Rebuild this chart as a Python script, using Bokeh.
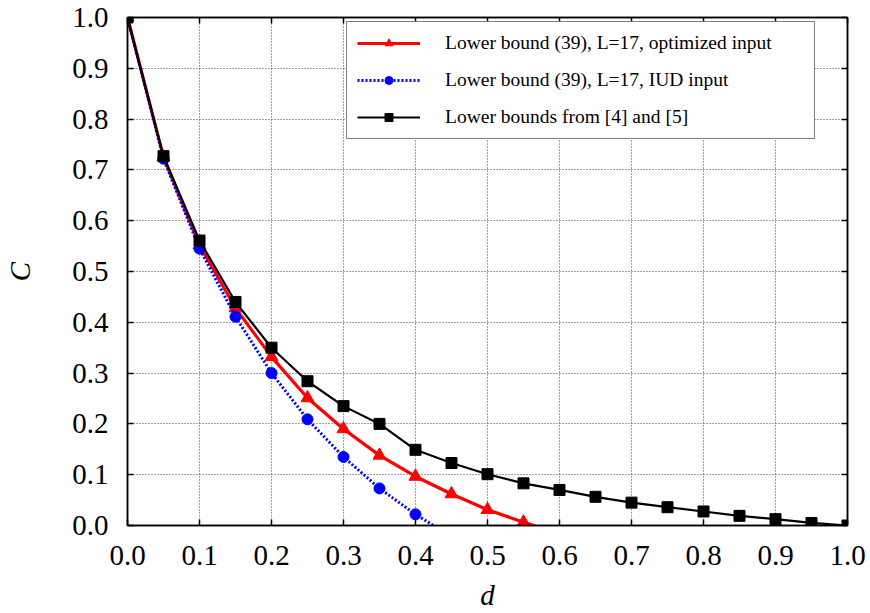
from bokeh.plotting import figure
from bokeh.models import (Range1d, LinearAxis, FixedTicker, PrintfTickFormatter, Legend)
from bokeh.embed import file_html
from bokeh.resources import INLINE

# ---- data ----
d_black = [0.0, 0.05, 0.1, 0.15, 0.2, 0.25, 0.3, 0.35, 0.4, 0.45, 0.5,
           0.55, 0.6, 0.65, 0.7, 0.75, 0.8, 0.85, 0.9, 0.95, 1.0]
c_black = [1.0, 0.727, 0.561, 0.440, 0.350, 0.284, 0.235, 0.200, 0.149, 0.123, 0.101,
           0.083, 0.070, 0.0565, 0.045, 0.036, 0.0276, 0.019, 0.0125, 0.005, 0.0]

d_red = [0.0, 0.05, 0.1, 0.15, 0.2, 0.25, 0.3, 0.35, 0.4, 0.45, 0.5, 0.55, 0.6]
c_red = [1.0, 0.725, 0.552, 0.428, 0.332, 0.251, 0.190, 0.138, 0.0965, 0.062, 0.031, 0.0065, -0.016]

d_blue = [0.0, 0.05, 0.1, 0.15, 0.2, 0.25, 0.3, 0.35, 0.4, 0.45]
c_blue = [1.0, 0.722, 0.545, 0.411, 0.300, 0.209, 0.135, 0.073, 0.022, -0.022]

x_ticks = [0.0, 0.1, 0.2, 0.3, 0.4, 0.5, 0.6, 0.7, 0.8, 0.9, 1.0]
y_ticks = [0.0, 0.1, 0.2, 0.3, 0.4, 0.5, 0.6, 0.7, 0.8, 0.9, 1.0]

label_red = "Lower bound (39), L=17, optimized input"
label_blue = "Lower bound (39), L=17, IUD input"
label_black = "Lower bounds from [4] and [5]"

FONT = "Liberation Serif"

p = figure(frame_width=720, frame_height=508,
           min_border_left=127, min_border_right=20, min_border_top=17, min_border_bottom=86,
           x_range=Range1d(0, 1), y_range=Range1d(0, 1),
           output_backend="svg", toolbar_location=None,
           x_axis_label="d", y_axis_label="C")
p.background_fill_color = "white"
p.border_fill_color = "white"
p.outline_line_color = "black"
p.outline_line_width = 1.5

# grid
for g, ticks in ((p.xgrid[0], x_ticks), (p.ygrid[0], y_ticks)):
    g.ticker = FixedTicker(ticks=ticks)
    g.grid_line_color = "#444444"
    g.grid_line_dash = "1 2"
    g.grid_line_width = 1

def style_axis(ax, ticks, show_labels):
    ax.ticker = FixedTicker(ticks=ticks)
    ax.formatter = PrintfTickFormatter(format="%.1f")
    ax.axis_line_color = "black"
    ax.axis_line_width = 1.5
    ax.major_tick_in = 6
    ax.major_tick_out = 0
    ax.major_tick_line_color = "black"
    ax.major_tick_line_width = 1.5
    ax.minor_tick_line_color = None
    ax.major_label_text_font = FONT
    if show_labels:
        ax.major_label_text_color = "black"
        ax.major_label_text_font_size = "29px"
    else:
        ax.major_label_text_color = None
        ax.major_label_text_font_size = "1px"
        ax.major_label_standoff = 0

style_axis(p.xaxis[0], x_ticks, True)
style_axis(p.yaxis[0], y_ticks, True)
p.xaxis[0].major_label_standoff = 20
p.yaxis[0].major_label_standoff = 19
for ax in (p.xaxis[0], p.yaxis[0]):
    ax.axis_label_text_font = FONT
    ax.axis_label_text_font_style = "italic"
    ax.axis_label_text_font_size = "29px"
    ax.axis_label_text_color = "black"
p.xaxis[0].axis_label_standoff = 11
p.yaxis[0].axis_label_standoff = 33

top_ax = LinearAxis()
style_axis(top_ax, x_ticks, False)
p.add_layout(top_ax, "above")
right_ax = LinearAxis()
style_axis(right_ax, y_ticks, False)
p.add_layout(right_ax, "right")

# series
lr = p.line(d_red, c_red, line_color="#ff0000", line_width=3.2)
sr = p.scatter(d_red, c_red, marker="triangle", size=13, fill_color="#ff0000", line_color="#ff0000")
lb = p.line(d_blue, c_blue, line_color="#0000ff", line_width=3, line_dash="2 2")
sb = p.scatter(d_blue, c_blue, marker="circle", size=11, fill_color="#0000ff", line_color="#0000ff")
lk = p.line(d_black, c_black, line_color="black", line_width=2.2)
sk = p.scatter(d_black, c_black, marker="square", size=11, fill_color="black", line_color="black")

legend = Legend(items=[(label_red, [lr, sr]), (label_blue, [lb, sb]), (label_black, [lk, sk])],
                location=(219, 386))
legend.margin = 0
legend.padding = 10
legend.spacing = 15
legend.glyph_width = 63
legend.glyph_height = 20
legend.label_height = 20
legend.label_standoff = 25
legend.label_width = 359
legend.label_text_font = FONT
legend.label_text_font_size = "19.5px"
legend.label_text_color = "black"
legend.border_line_color = "black"
legend.border_line_width = 1.2
legend.background_fill_color = "white"
legend.background_fill_alpha = 1.0
p.add_layout(legend, "center")

open("out.html", "w").write(file_html(p, INLINE))
